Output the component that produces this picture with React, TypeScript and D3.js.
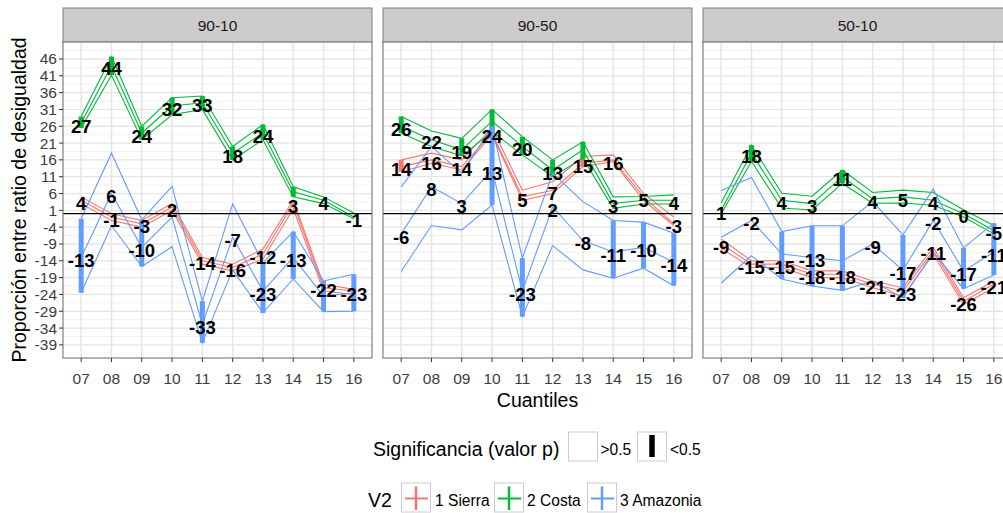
import React from 'react';
import * as d3 from 'd3';

// ---------- categories ----------
const quantiles = ['07', '08', '09', '10', '11', '12', '13', '14', '15', '16'];
const panelNames = ['90-10', '90-50', '50-10'];
const regionNames = ['1 Sierra', '2 Costa', '3 Amazonia'];
const regionColors = ['#F8766D', '#00BA38', '#619CFF'];
const yTickValues = [-39, -34, -29, -24, -19, -14, -9, -4, 1, 6, 11, 16, 21, 26, 31, 36, 41, 46];

// ---------- 90-10 ----------
const est9010Sierra = [4, -1, -3, 2, -14, -16, -12, 3, -22, -23];
const lo9010Sierra = [3, -2, -4, 1, -15, -17, -13.5, 1.5, -23, -24];
const hi9010Sierra = [5, 0, -2, 3, -13, -15, -10.5, 4, -21, -22.5];
const sig9010Sierra = [0, 0, 0, 0, 0, 0, 0, 0, 0, 0];
const hidden9010Sierra: number[] = [];

const est9010Costa = [27, 44, 24, 32, 33, 18, 24, 6.5, 4, -1];
const lo9010Costa = [25.5, 41.2, 22, 29.4, 31, 16, 22, 5, 3, -1.5];
const hi9010Costa = [28.9, 46.7, 26, 34.5, 35, 20, 26.5, 8, 5, 0.2];
const sig9010Costa = [1, 1, 1, 1, 1, 1, 1, 1, 0, 0];
const hidden9010Costa = [7];

const est9010Amaz = [-13, 6, -10, -1, -33, -7, -23, -13, -24.5, -23.5];
const lo9010Amaz = [-23.5, -3.5, -15.7, -9.8, -38.4, -16.7, -29.5, -19.4, -29.1, -29];
const hi9010Amaz = [-1.5, 18, -1.8, 8.1, -26, 2.9, -14.6, -5.3, -20, -18];
const sig9010Amaz = [1, 0, 1, 0, 1, 0, 1, 1, 1, 1];
const hidden9010Amaz = [3, 8, 9];

// ---------- 90-50 ----------
const est9050Sierra = [14, 16, 14, 24, 5, 7, 15, 16, 5, -3];
const lo9050Sierra = [12.5, 15, 13, 23.5, 4, 6, 14, 15.5, 4, -3.5];
const hi9050Sierra = [16, 18, 16, 25.5, 7, 9.5, 17, 17.5, 6, -1];
const sig9050Sierra = [1, 0, 0, 0, 0, 0, 1, 0, 0, 0];
const hidden9050Sierra: number[] = [];

const est9050Costa = [26, 22, 19, 27.5, 20, 13, 19, 3, 4, 4];
const lo9050Costa = [24, 20, 17.2, 24.4, 17.5, 11, 16.5, 1.6, 2.9, 2.9];
const hi9050Costa = [28.9, 24.6, 22.4, 31, 22.9, 16, 21.4, 5, 5.1, 5.6];
const sig9050Costa = [1, 0, 1, 1, 1, 1, 1, 0, 0, 0];
const hidden9050Costa = [3, 6, 8];

const est9050Amaz = [-6, 8, 3, 13, -23, 2, -8, -11.4, -10, -14.4];
const lo9050Amaz = [-17.2, -3.5, -4.8, 2.6, -30.6, -9.5, -16.7, -19.2, -16.2, -21.4];
const hi9050Amaz = [8, 20, 12, 25.9, -13.2, 12, 3.6, -2, -2.5, -5.8];
const sig9050Amaz = [0, 0, 0, 1, 1, 0, 0, 1, 1, 1];
const hidden9050Amaz: number[] = [];

// ---------- 50-10 ----------
const est5010Sierra = [-9, -15, -15, -18, -18, -21, -23, -11, -26, -21];
const lo5010Sierra = [-10.3, -16, -16, -19, -19, -22, -24.5, -12, -27, -22];
const hi5010Sierra = [-7.5, -14, -14, -17, -17, -20, -22, -10, -25, -20];
const sig5010Sierra = [0, 0, 0, 0, 0, 0, 0, 0, 0, 0];
const hidden5010Sierra: number[] = [];

const est5010Costa = [1, 18, 4, 3, 11, 4.4, 5, 4, 0, -5];
const lo5010Costa = [0, 15.5, 1.7, 1.1, 9, 3.1, 3.2, 2.5, -1, -6];
const hi5010Costa = [3.2, 20.4, 6.1, 5.2, 13, 6.3, 7, 6.3, 1.2, -3.5];
const sig5010Costa = [0, 1, 0, 0, 1, 0, 0, 0, 0, 0];
const hidden5010Costa: number[] = [];

const est5010Amaz = [-7, -2, -12, -13, -14, -9, -16.8, -2, -17, -11.4];
const lo5010Amaz = [-20.6, -12.5, -19.4, -21.5, -22.8, -20, -25.1, -11.5, -22.3, -18.2];
const hi5010Amaz = [6.9, 10.8, -5.3, -3.6, -3.6, 3.6, -6.3, 7.3, -10.2, -2.8];
const sig5010Amaz = [0, 0, 1, 1, 1, 0, 1, 0, 1, 1];
const hidden5010Amaz = [0, 2, 4];

type Series = { est: number[]; lo: number[]; hi: number[]; sig: number[]; hidden: number[] };

const panelSeries: Series[][] = [
  [
    { est: est9010Sierra, lo: lo9010Sierra, hi: hi9010Sierra, sig: sig9010Sierra, hidden: hidden9010Sierra },
    { est: est9010Costa, lo: lo9010Costa, hi: hi9010Costa, sig: sig9010Costa, hidden: hidden9010Costa },
    { est: est9010Amaz, lo: lo9010Amaz, hi: hi9010Amaz, sig: sig9010Amaz, hidden: hidden9010Amaz },
  ],
  [
    { est: est9050Sierra, lo: lo9050Sierra, hi: hi9050Sierra, sig: sig9050Sierra, hidden: hidden9050Sierra },
    { est: est9050Costa, lo: lo9050Costa, hi: hi9050Costa, sig: sig9050Costa, hidden: hidden9050Costa },
    { est: est9050Amaz, lo: lo9050Amaz, hi: hi9050Amaz, sig: sig9050Amaz, hidden: hidden9050Amaz },
  ],
  [
    { est: est5010Sierra, lo: lo5010Sierra, hi: hi5010Sierra, sig: sig5010Sierra, hidden: hidden5010Sierra },
    { est: est5010Costa, lo: lo5010Costa, hi: hi5010Costa, sig: sig5010Costa, hidden: hidden5010Costa },
    { est: est5010Amaz, lo: lo5010Amaz, hi: hi5010Amaz, sig: sig5010Amaz, hidden: hidden5010Amaz },
  ],
];

const FONT = '"Liberation Sans", Arial, Helvetica, sans-serif';

export default function App() {
  const W = 1003;
  const H = 513;
  const panelTop = 42;
  const panelBottom = 358;
  const panelW = 309;
  const panelLefts = [63, 383, 703];
  const stripTop = 8;

  const y = d3.scaleLinear().domain([-42.9, 51.05]).range([panelBottom, panelTop]);
  const minorValues: number[] = [];
  for (let i = 0; i < yTickValues.length - 1; i++) minorValues.push((yTickValues[i] + yTickValues[i + 1]) / 2);
  minorValues.push(yTickValues[0] - 2.5, yTickValues[yTickValues.length - 1] + 2.5);

  return (
    <svg
      width={W}
      height={H}
      style={{ position: 'absolute', left: 0, top: 0, fontFamily: FONT, background: '#fff' }}
    >
      <rect x={0} y={0} width={W} height={H} fill="#fff" />
      {panelNames.map((pname, pi) => {
        const left = panelLefts[pi];
        const x = d3.scalePoint<string>().domain(quantiles).range([left, left + panelW]).padding(0.6);
        const series = panelSeries[pi];
        const mkLine = (vals: number[]) =>
          d3.line<number>().x((_, i) => x(quantiles[i]) as number).y((v) => y(v))(vals) || '';
        return (
          <g key={pname}>
            {/* strip */}
            <rect x={left} y={stripTop} width={panelW} height={panelTop - stripTop} fill="#CCCCCC" stroke="#7F7F7F" strokeWidth={1} />
            <text x={left + panelW / 2} y={(stripTop + panelTop) / 2 + 5.5} textAnchor="middle" fontSize={15.5} fill="#1A1A1A">
              {pname}
            </text>
            {/* panel bg */}
            <rect x={left} y={panelTop} width={panelW} height={panelBottom - panelTop} fill="#fff" />
            {minorValues.map((v) => (
              <line key={'mi' + v} x1={left} x2={left + panelW} y1={y(v)} y2={y(v)} stroke="#F2F2F2" strokeWidth={1} />
            ))}
            {yTickValues.map((v) => (
              <line key={'ma' + v} x1={left} x2={left + panelW} y1={y(v)} y2={y(v)} stroke="#E5E5E5" strokeWidth={1.3} />
            ))}
            {quantiles.map((q) => (
              <line key={'vx' + q} x1={x(q)} x2={x(q)} y1={panelTop} y2={panelBottom} stroke="#E5E5E5" strokeWidth={1.5} />
            ))}
            {/* series lines */}
            {series.map((s, si) => (
              <g key={'s' + si} fill="none" stroke={regionColors[si]} strokeWidth={1.1}>
                <path d={mkLine(s.hi)} />
                <path d={mkLine(s.est)} />
                <path d={mkLine(s.lo)} />
                {s.sig.map((g, i) =>
                  g ? (
                    <line
                      key={'b' + i}
                      x1={x(quantiles[i])}
                      x2={x(quantiles[i])}
                      y1={y(s.lo[i])}
                      y2={y(s.hi[i])}
                      strokeWidth={5}
                    />
                  ) : null
                )}
              </g>
            ))}
            {/* zero line */}
            <line x1={left} x2={left + panelW} y1={y(0)} y2={y(0)} stroke="#000" strokeWidth={1.2} />
            {/* labels */}
            {series.map((s, si) =>
              s.est.map((v, i) =>
                s.hidden.includes(i) ? null : (
                  <text
                    key={'t' + si + '-' + i}
                    x={x(quantiles[i])}
                    y={y(v)}
                    dy="0.52em"
                    textAnchor="middle"
                    fontSize={18.5}
                    fontWeight="bold"
                    fill="#000"
                  >
                    {Math.round(v)}
                  </text>
                )
              )
            )}
            {/* border */}
            <rect x={left} y={panelTop} width={panelW} height={panelBottom - panelTop} fill="none" stroke="#7F7F7F" strokeWidth={1.2} />
            {/* x ticks */}
            {quantiles.map((q) => (
              <g key={'xt' + q}>
                <line x1={x(q)} x2={x(q)} y1={panelBottom} y2={panelBottom + 4} stroke="#333" strokeWidth={1} />
                <text x={x(q)} y={383.5} textAnchor="middle" fontSize={15.5} fill="#3C3C3C">
                  {q}
                </text>
              </g>
            ))}
          </g>
        );
      })}
      {/* y axis */}
      {yTickValues.map((v) => (
        <g key={'yt' + v}>
          <line x1={59} x2={63} y1={y(v)} y2={y(v)} stroke="#333" strokeWidth={1} />
          <text x={57} y={y(v) + 5.5} textAnchor="end" fontSize={15.5} fill="#3C3C3C">
            {v}
          </text>
        </g>
      ))}
      <text transform="translate(26,200) rotate(-90)" textAnchor="middle" fontSize={19.5} fill="#000">
        Proporción entre ratio de desigualdad
      </text>
      <text x={537.5} y={407} textAnchor="middle" fontSize={19.5} fill="#000">
        Cuantiles
      </text>

      {/* legend: significance */}
      <text x={373} y={456} fontSize={19.5} fill="#000">
        Significancia (valor p)
      </text>
      <rect x={568.5} y={432} width={29} height={29} fill="#fff" stroke="#CCCCCC" strokeWidth={1} />
      <text x={600.5} y={455} fontSize={15.6} fill="#000">
        {'>0.5'}
      </text>
      <rect x={637.5} y={432} width={29} height={29} fill="#fff" stroke="#CCCCCC" strokeWidth={1} />
      <line x1={652} x2={652} y1={435} y2={457} stroke="#000" strokeWidth={5.5} />
      <text x={670} y={455} fontSize={15.6} fill="#000">
        {'<0.5'}
      </text>

      {/* legend: region */}
      <text x={368} y={507} fontSize={19.5} fill="#000">
        V2
      </text>
      {regionNames.map((r, i) => {
        const bx = [401.5, 494.5, 587.5][i];
        const lx = [435, 527, 620][i];
        return (
          <g key={'lg' + r}>
            <rect x={bx} y={483} width={29} height={29} fill="#fff" stroke="#CCCCCC" strokeWidth={1} />
            <line x1={bx + 3.5} x2={bx + 26.5} y1={498.5} y2={498.5} stroke={regionColors[i]} strokeWidth={2} />
            <line x1={bx + 14.5} x2={bx + 14.5} y1={486.5} y2={510} stroke={regionColors[i]} strokeWidth={2.5} />
            <text x={lx} y={506} fontSize={15.6} fill="#000">
              {r}
            </text>
          </g>
        );
      })}
    </svg>
  );
}
